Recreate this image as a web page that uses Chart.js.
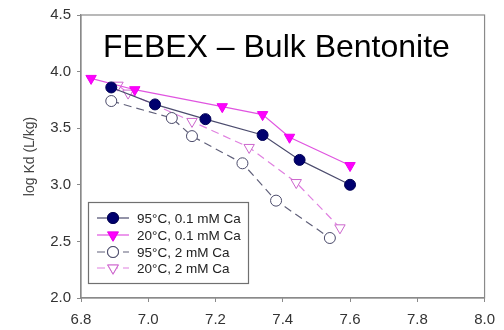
<!DOCTYPE html>
<html>
<head>
<meta charset="utf-8">
<script src="https://cdn.jsdelivr.net/npm/chart.js@4"></script>
<style>
  html, body { margin: 0; padding: 0; background: #fff; }
  #wrap { width: 504px; height: 330px; }
</style>
</head>
<body>
<div id="wrap"><canvas id="myChart" width="504" height="330"></canvas></div>
<script>
// values
const chartTitle = "FEBEX \u2013 Bulk Bentonite";
const yLabel = "log Kd (L/kg)";
const seriesNames = ["95°C, 0.1 mM Ca", "20°C, 0.1 mM Ca", "95°C, 2 mM Ca", "20°C, 2 mM Ca"];

const ph95low = [6.89, 7.02, 7.17, 7.34, 7.45, 7.60];
const kd95low = [3.86, 3.71, 3.58, 3.44, 3.22, 3.00];

const ph20low = [6.83, 6.96, 7.22, 7.34, 7.42, 7.60];
const kd20low = [3.94, 3.84, 3.69, 3.62, 3.42, 3.17];

const ph95high = [6.89, 7.07, 7.13, 7.28, 7.38, 7.54];
const kd95high = [3.74, 3.59, 3.43, 3.19, 2.86, 2.53];

const ph20high = [6.91, 6.94, 7.13, 7.30, 7.44, 7.57];
const kd20high = [3.88, 3.81, 3.56, 3.33, 3.02, 2.62];

const xTicks = [6.8, 7.0, 7.2, 7.4, 7.6, 7.8, 8.0];
const yTicks = [2.0, 2.5, 3.0, 3.5, 4.0, 4.5];

const FONT = "'Liberation Sans', Arial, sans-serif";

function pairs(xs, ys) {
    return xs.map((x, i) => ({ x: x, y: ys[i] }));
}

// frame round the plot area + title inside it
const framePlugin = {
    id: 'frame',
    afterDraw(chart) {
        const a = chart.chartArea;
        const ctx = chart.ctx;
        ctx.save();
        ctx.strokeStyle = '#8a8a8a';
        ctx.lineWidth = 1.2;
        ctx.strokeRect(a.left, a.top, a.right - a.left, a.bottom - a.top);
        ctx.fillStyle = '#000';
        ctx.font = "32px " + FONT;
        ctx.textBaseline = 'alphabetic';
        ctx.fillText(chartTitle, 103, 57);
        ctx.restore();
    }
};

// legend box sitting inside the plot, lower left
const boxLegend = {
    id: 'boxLegend',
    afterDraw(chart) {
        const ctx = chart.ctx;
        ctx.save();
        ctx.fillStyle = '#fff';
        ctx.fillRect(88, 202, 161, 82);
        ctx.strokeStyle = '#707070';
        ctx.lineWidth = 1.2;
        ctx.strokeRect(88.5, 202.5, 160, 81);
        const rows = [218, 235, 252, 268];
        chart.data.datasets.forEach((ds, i) => {
            const y = rows[i];
            ctx.strokeStyle = ds.borderColor;
            ctx.lineWidth = ds.borderWidth;
            ctx.setLineDash(ds.borderDash || []);
            ctx.beginPath();
            ctx.moveTo(97, y);
            ctx.lineTo(129, y);
            ctx.stroke();
            ctx.setLineDash([]);
            Chart.helpers.drawPoint(ctx, {
                pointStyle: ds.pointStyle,
                rotation: ds.pointRotation || 0,
                radius: ds.pointRadius,
                borderWidth: ds.pointBorderWidth
            }, 113, y);
            ctx.fillStyle = ds.pointBackgroundColor;
            ctx.strokeStyle = ds.pointBorderColor;
            ctx.lineWidth = ds.pointBorderWidth;
            ctx.fill();
            ctx.stroke();
            ctx.fillStyle = '#222';
            ctx.font = "13.5px " + FONT;
            ctx.textBaseline = 'middle';
            ctx.fillText(seriesNames[i], 137, y + 1);
        });
        ctx.restore();
    }
};

document.addEventListener('DOMContentLoaded', function() {
    var ctx = document.getElementById("myChart");
    new Chart(ctx, {
        type: 'scatter',
        data: {
            datasets: [
                {
                    label: seriesNames[0],
                    data: pairs(ph95low, kd95low),
                    showLine: true,
                    borderColor: '#4c4c6e',
                    borderWidth: 1.2,
                    pointStyle: 'circle',
                    pointRadius: 5.5,
                    pointBackgroundColor: '#00006e',
                    pointBorderColor: '#000055',
                    pointBorderWidth: 1
                },
                {
                    label: seriesNames[1],
                    data: pairs(ph20low, kd20low),
                    showLine: true,
                    borderColor: '#e055e0',
                    borderWidth: 1.2,
                    pointStyle: 'triangle',
                    pointRotation: 180,
                    pointRadius: 6,
                    pointBackgroundColor: '#ff00ff',
                    pointBorderColor: '#ee00ee',
                    pointBorderWidth: 1
                },
                {
                    label: seriesNames[2],
                    data: pairs(ph95high, kd95high),
                    showLine: true,
                    borderColor: '#60607a',
                    borderWidth: 1.2,
                    borderDash: [8, 5],
                    pointStyle: 'circle',
                    pointRadius: 5.5,
                    pointBackgroundColor: '#ffffff',
                    pointBorderColor: '#4a4a6a',
                    pointBorderWidth: 1
                },
                {
                    label: seriesNames[3],
                    data: pairs(ph20high, kd20high),
                    showLine: true,
                    borderColor: '#e080e0',
                    borderWidth: 1.2,
                    borderDash: [8, 5],
                    pointStyle: 'triangle',
                    pointRotation: 180,
                    pointRadius: 6,
                    pointBackgroundColor: '#ffffff',
                    pointBorderColor: '#cc66cc',
                    pointBorderWidth: 1
                }
            ]
        },
        options: {
            responsive: false,
            animation: false,
            layout: { padding: { top: 14, right: 16, left: 0, bottom: 0 } },
            plugins: {
                legend: { display: false },
                tooltip: { enabled: false }
            },
            scales: {
                x: {
                    type: 'linear',
                    min: 6.8,
                    max: 8.0,
                    afterBuildTicks: (s) => { s.ticks = xTicks.map(v => ({ value: v })); },
                    afterFit: (s) => { s.height = 32; },
                    border: { color: '#8a8a8a', width: 1.2 },
                    grid: { drawOnChartArea: false, drawTicks: true, tickLength: 4, color: '#8a8a8a' },
                    ticks: {
                        color: '#333',
                        font: { family: FONT, size: 15 },
                        padding: 9,
                        maxRotation: 0,
                        callback: (v) => Number(v).toFixed(1)
                    }
                },
                y: {
                    type: 'linear',
                    min: 2.0,
                    max: 4.5,
                    afterBuildTicks: (s) => { s.ticks = yTicks.map(v => ({ value: v })); },
                    afterFit: (s) => { s.width = 81; },
                    border: { color: '#8a8a8a', width: 1.2 },
                    grid: { drawOnChartArea: false, drawTicks: true, tickLength: 4, color: '#8a8a8a' },
                    title: {
                        display: true,
                        text: yLabel,
                        color: '#444',
                        font: { family: FONT, size: 14 },
                        padding: { top: 22, bottom: 0 }
                    },
                    ticks: {
                        color: '#333',
                        font: { family: FONT, size: 15 },
                        padding: 6,
                        callback: (v) => Number(v).toFixed(1)
                    }
                }
            }
        },
        plugins: [framePlugin, boxLegend]
    });
});
</script>
</body>
</html>
